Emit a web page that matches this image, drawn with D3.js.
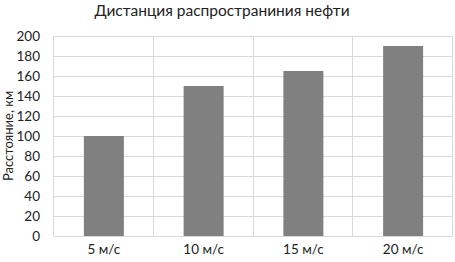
<!DOCTYPE html>
<html lang="ru">
<head>
<meta charset="utf-8" />
<script src="https://d3js.org/d3.v7.min.js"></script>
<style>
  body { margin: 0; background: #fff; }
  text { font-family: Lato, "Open Sans", sans-serif; fill: #222; }
</style>
</head>
<body>
<script>
  // data
  const categories = ["5 м/с", "10 м/с", "15 м/с", "20 м/с"];
  const distances = [100, 150, 165, 190];
  const yTicks = [0, 20, 40, 60, 80, 100, 120, 140, 160, 180, 200];

  const width = 455, height = 262;
  const margin = { top: 36, right: 2, bottom: 26, left: 54 };

  const svg = d3.select("body").append("svg")
      .attr("width", width)
      .attr("height", height);

  const x = d3.scaleBand()
      .domain(categories)
      .range([margin.left, width - margin.right])
      .paddingInner(0)
      .paddingOuter(0);

  const y = d3.scaleLinear()
      .domain([0, 200])
      .range([height - margin.bottom, margin.top]);

  // horizontal gridlines
  svg.append("g")
      .selectAll("line")
      .data(yTicks)
      .join("line")
      .attr("x1", margin.left)
      .attr("x2", width - margin.right)
      .attr("y1", d => Math.round(y(d)) + 0.5)
      .attr("y2", d => Math.round(y(d)) + 0.5)
      .attr("stroke", "#d9d9d9");

  // vertical gridlines at category boundaries
  const bounds = categories.map(c => x(c)).concat([x.range()[1]]);
  svg.append("g")
      .selectAll("line")
      .data(bounds)
      .join("line")
      .attr("x1", d => Math.round(d) - 0.5)
      .attr("x2", d => Math.round(d) - 0.5)
      .attr("y1", y(200))
      .attr("y2", y(0))
      .attr("stroke", "#d9d9d9");

  // bars
  const barW = 40;
  svg.append("g")
      .selectAll("rect")
      .data(distances)
      .join("rect")
      .attr("x", (d, i) => x(categories[i]) + x.bandwidth() / 2 - barW / 2)
      .attr("y", d => y(d))
      .attr("width", barW)
      .attr("height", d => y(0) - y(d))
      .attr("fill", "#808080");

  // y axis labels
  const yAxis = d3.axisLeft(y).tickValues(yTicks).tickSize(0).tickPadding(14);
  svg.append("g")
      .attr("transform", `translate(${margin.left},0)`)
      .call(yAxis)
      .call(g => g.select(".domain").remove())
      .selectAll("text")
      .style("font-size", "13.5px")
      .style("fill", "#222");

  // x axis labels
  const xAxis = d3.axisBottom(x).tickSize(0).tickPadding(8);
  svg.append("g")
      .attr("transform", `translate(0,${y(0)})`)
      .call(xAxis)
      .call(g => g.select(".domain").remove())
      .selectAll("text")
      .style("font-size", "13.5px")
      .style("fill", "#222");

  // title
  svg.append("text")
      .attr("x", 222)
      .attr("y", 16)
      .attr("text-anchor", "middle")
      .style("font-size", "15.5px")
      .text("Дистанция распространиния нефти");

  // y axis title
  svg.append("text")
      .attr("transform", "translate(13,136) rotate(-90)")
      .attr("text-anchor", "middle")
      .style("font-size", "13px")
      .text("Расстояние, км");
</script>
</body>
</html>
